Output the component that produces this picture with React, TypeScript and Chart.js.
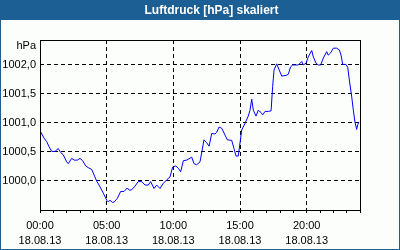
import React, { useEffect, useRef } from "react";
import { Chart, registerables } from "chart.js";

Chart.register(...registerables);

const TITLE = "Luftdruck [hPa] skaliert";
const UNIT = "hPa";
const DATE_LABEL = "18.08.13";

// hours since 00:00
const times = [
  0.0, 0.3, 0.5, 0.68, 0.88, 1.13, 1.37, 1.55, 1.75, 2.0, 2.12, 2.38, 2.57, 2.8, 3.0, 3.2, 3.43, 3.62, 3.88,
  4.12, 4.25, 4.5, 4.75, 5.0, 5.12, 5.25, 5.42, 5.57, 5.8, 6.05, 6.3, 6.55, 6.7, 6.88, 7.12, 7.37, 7.63,
  7.88, 8.12, 8.3, 8.55, 8.75, 9.0, 9.25, 9.5, 9.75, 9.95, 10.18, 10.37, 10.55, 10.75, 11.0, 11.38, 11.55,
  11.75, 12.0, 12.3, 12.5, 12.68, 12.88, 13.12, 13.25, 13.43, 13.63, 13.88, 14.05, 14.38, 14.55, 14.7,
  14.87, 15.13, 15.37, 15.62, 15.75, 15.88, 16.0, 16.2, 16.37, 16.58, 16.7, 16.88, 17.12, 17.33, 17.45,
  17.55, 17.75, 18.0, 18.13, 18.45, 18.62, 18.8, 18.95, 19.37, 19.63, 19.75, 19.95, 20.12, 20.38, 20.5,
  20.7, 20.87, 21.05, 21.25, 21.5, 21.62, 21.8, 22.0, 22.25, 22.45, 22.58, 22.7, 22.95, 23.08, 23.2,
  23.38, 23.5, 23.62, 23.75, 23.83, 23.92,
];

const pressure = [
  1000.87, 1000.74, 1000.68, 1000.59, 1000.51, 1000.51, 1000.56, 1000.49, 1000.45, 1000.33, 1000.3,
  1000.39, 1000.36, 1000.36, 1000.39, 1000.35, 1000.26, 1000.23, 1000.2, 1000.07, 1000.0, 999.9, 999.79,
  999.67, 999.64, 999.67, 999.63, 999.64, 999.7, 999.82, 999.82, 999.88, 999.84, 999.85, 999.91, 999.99,
  999.99, 999.93, 999.93, 999.99, 999.87, 999.93, 999.87, 999.96, 1000.02, 1000.07, 1000.24, 1000.26,
  1000.22, 1000.16, 1000.35, 1000.36, 1000.41, 1000.3, 1000.28, 1000.33, 1000.71, 1000.66, 1000.6,
  1000.82, 1000.81, 1000.84, 1000.93, 1000.91, 1000.79, 1000.71, 1000.7, 1000.56, 1000.43, 1000.43,
  1000.88, 1000.99, 1001.12, 1001.22, 1001.41, 1001.22, 1001.12, 1001.22, 1001.18, 1001.14, 1001.2,
  1001.2, 1001.21, 1001.63, 1001.91, 1002.02, 1001.88, 1001.81, 1001.82, 1001.84, 1001.97, 1002.0,
  1002.0, 1002.06, 1002.0, 1002.03, 1002.14, 1002.25, 1002.14, 1002.03, 1002.0, 1002.0, 1002.12,
  1002.23, 1002.17, 1002.21, 1002.29, 1002.29, 1002.26, 1002.17, 1002.01, 1002.01, 1001.96, 1001.74,
  1001.45, 1001.22, 1001.02, 1000.89, 1000.97, 1001.02,
];

const yTicks = [1000.0, 1000.5, 1001.0, 1001.5, 1002.0];
const majorHours = [0, 5, 10, 15, 20];

const FONT = "'Liberation Sans', Arial, sans-serif";

const framePlugin = {
  id: "frame",
  beforeDraw(chart: any) {
    const { ctx, width, height } = chart;
    ctx.save();
    ctx.fillStyle = "#fbfefb";
    ctx.fillRect(0, 0, width, height);
    ctx.fillStyle = "#1c5f94";
    ctx.fillRect(0, 0, width, 20);
    ctx.fillRect(0, 0, 1, height);
    ctx.fillRect(width - 1, 0, 1, height);
    ctx.fillRect(0, height - 1, width, 1);
    ctx.fillStyle = "#ffffff";
    ctx.font = "bold 12px " + FONT;
    ctx.textAlign = "center";
    ctx.textBaseline = "middle";
    ctx.fillText(TITLE, 211.5, 10.5);
    ctx.restore();
  },
  afterDraw(chart: any) {
    const { ctx, chartArea } = chart;
    ctx.save();
    ctx.strokeStyle = "#000000";
    ctx.lineWidth = 1;
    ctx.setLineDash([]);
    ctx.strokeRect(
      Math.round(chartArea.left) + 0.5,
      Math.round(chartArea.top) + 0.5,
      Math.round(chartArea.right - chartArea.left),
      Math.round(chartArea.bottom - chartArea.top)
    );
    ctx.fillStyle = "#000000";
    ctx.font = "11px " + FONT;
    ctx.textAlign = "right";
    ctx.textBaseline = "middle";
    ctx.fillText(UNIT, chartArea.left - 4, 46);
    ctx.restore();
  },
};

export default function App() {
  const ref = useRef<HTMLCanvasElement | null>(null);

  useEffect(() => {
    document.body.style.margin = "0";
    if (!ref.current) return;
    const chart = new Chart(ref.current, {
      type: "line",
      data: {
        datasets: [
          {
            data: times.map((t, i) => ({ x: t, y: pressure[i] })),
            borderColor: "#0000ff",
            borderWidth: 1,
            pointRadius: 0,
            tension: 0,
            fill: false,
          },
        ],
      },
      options: {
        animation: false,
        responsive: false,
        devicePixelRatio: 1,
        layout: { padding: { left: 0, top: 40, right: 40, bottom: 0 } },
        plugins: { legend: { display: false }, tooltip: { enabled: false }, title: { display: false } },
        scales: {
          x: {
            type: "linear",
            min: 0,
            max: 24,
            afterFit: (s: any) => {
              s.height = 40;
            },
            afterBuildTicks: (s: any) => {
              const arr = [];
              for (let h = 0; h <= 24; h++) arr.push({ value: h });
              s.ticks = arr;
            },
            border: { display: false, dash: [4, 3] },
            grid: {
              color: (c: any) =>
                c.tick && c.tick.value % 5 === 0 && c.tick.value > 0 && c.tick.value < 24 ? "#000000" : "rgba(0,0,0,0)",
              tickColor: "#000000",
              tickLength: 3,
              tickBorderDash: [],
              lineWidth: 1,
              drawTicks: true,
            },
            ticks: {
              autoSkip: false,
              maxRotation: 0,
              padding: 5,
              color: "#000000",
              font: { family: FONT, size: 11, lineHeight: 15 / 11 },
              callback: (v: any) => {
                const n = Number(v);
                if (majorHours.includes(n)) {
                  const hh = String(n).padStart(2, "0");
                  return [hh + ":00", DATE_LABEL];
                }
                return "";
              },
            },
          },
          y: {
            min: 999.5,
            max: 1002.431,
            afterFit: (s: any) => {
              s.width = 40;
            },
            afterBuildTicks: (s: any) => {
              s.ticks = yTicks.map((v) => ({ value: v }));
            },
            border: { display: false, dash: [4, 3] },
            grid: {
              color: "#000000",
              lineWidth: 1,
              drawTicks: false,
            },
            ticks: {
              padding: 4,
              color: "#000000",
              font: { family: FONT, size: 11 },
              callback: (v: any) => Number(v).toFixed(1).replace(".", ","),
            },
          },
        },
      },
      plugins: [framePlugin],
    });
    return () => chart.destroy();
  }, []);

  return <canvas ref={ref} width={400} height={250} style={{ display: "block" }} />;
}
